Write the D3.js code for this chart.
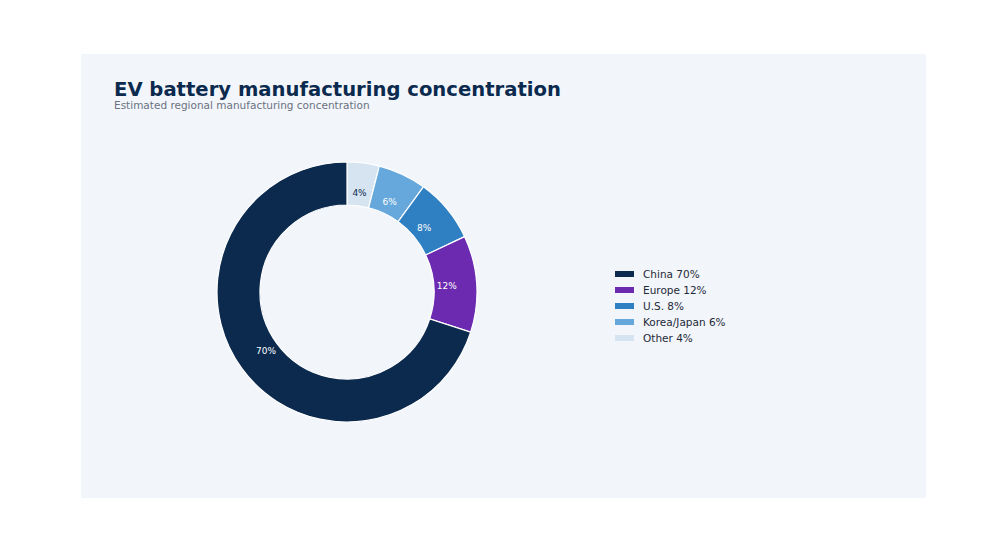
<!DOCTYPE html>
<html><head><meta charset="utf-8">
<script src="https://cdn.jsdelivr.net/npm/d3@7"></script>
<style>body{margin:0;background:#fff;font-family:"DejaVu Sans",sans-serif}</style>
</head><body><svg id="chart" width="1008" height="541"></svg>
<script>
// slices in clockwise order from 12 o'clock
const data = [
    { name: 'Other', value: 4, color: '#d6e4f1', text: '#0b2a4e' },
    { name: 'Korea/Japan', value: 6, color: '#66a8dc', text: '#fff' },
    { name: 'U.S.', value: 8, color: '#2f80c3', text: '#fff' },
    { name: 'Europe', value: 12, color: '#6b2ab0', text: '#fff' },
    { name: 'China', value: 70, color: '#0b2a4e', text: '#fff' },
];
const legendOrder = ['China', 'Europe', 'U.S.', 'Korea/Japan', 'Other'];

const svg = d3.select('#chart');
svg.append('rect').attr('x', 81).attr('y', 54).attr('width', 845).attr('height', 444).attr('fill', '#f2f6fb');

svg.append('text').attr('x', 114).attr('y', 96).attr('font-size', 19.6).attr('font-weight', 'bold')
    .attr('fill', '#0b2a4e').text('EV battery manufacturing concentration');
svg.append('text').attr('x', 114).attr('y', 109).attr('font-size', 10.5).attr('fill', '#6b7280')
    .text('Estimated regional manufacturing concentration');

const pie = d3.pie().value(d => d.value).sort(null);
const arc = d3.arc().innerRadius(87).outerRadius(130);
const labelArc = d3.arc().innerRadius(100).outerRadius(100);

const g = svg.append('g').attr('transform', 'translate(347,292)');
const arcs = pie(data);
g.selectAll('path').data(arcs).join('path')
    .attr('d', arc).attr('fill', d => d.data.color)
    .attr('stroke', '#fff').attr('stroke-width', 1.2);
g.selectAll('text').data(arcs).join('text')
    .attr('transform', d => `translate(${labelArc.centroid(d)})`)
    .attr('text-anchor', 'middle').attr('dominant-baseline', 'central')
    .attr('font-size', 9).attr('fill', d => d.data.text)
    .text(d => d.data.value + '%');

const legend = svg.append('g').attr('transform', 'translate(615,274)');
legendOrder.forEach((n, i) => {
    const d = data.find(x => x.name === n);
    legend.append('rect').attr('x', 0).attr('y', i * 16 - 3).attr('width', 19).attr('height', 6).attr('fill', d.color);
    legend.append('text').attr('x', 28).attr('y', i * 16).attr('dominant-baseline', 'central')
        .attr('font-size', 10.5).attr('fill', '#1f2937').text(`${d.name} ${d.value}%`);
});
</script></body></html>
